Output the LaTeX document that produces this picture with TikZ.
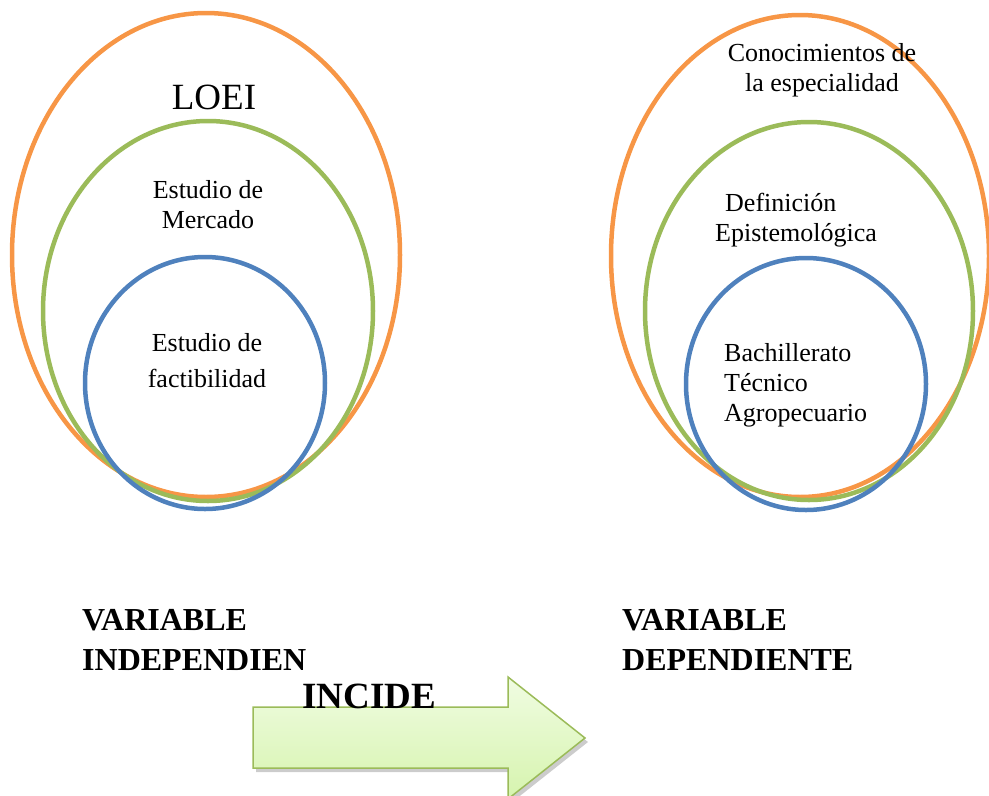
\documentclass[tikz,border=0pt]{standalone}
\usepackage{fontspec}
\setmainfont{Liberation Serif}
\usepackage{tikz}
\usetikzlibrary{positioning,calc}
\definecolor{tangerine}{HTML}{F79646}
\definecolor{olive}{HTML}{9BBB59}
\definecolor{steel}{HTML}{4F81BD}
\definecolor{mintlight}{HTML}{F0FCE2}
\definecolor{mintdark}{HTML}{D6F4AE}

\begin{document}
\begin{tikzpicture}[x=1pt, y=-1pt,
    ring/.style={line width=4.5pt},
    label/.style={inner sep=0pt, font=\fontsize{26}{30}\selectfont},
    varlabel/.style={inner sep=0pt, align=left, anchor=north west, font=\fontsize{32}{40}\selectfont\bfseries}]
      \useasboundingbox (0,0) rectangle (989,796);

      % left set: independent variable
      \draw[tangerine, ring] (206,255) ellipse [x radius=194, y radius=242];
      \draw[olive, ring] (208,311) ellipse [x radius=165, y radius=190];
      \draw[steel, ring] (205,383) ellipse [x radius=120, y radius=126];
      \node[label, anchor=north, font=\fontsize{37}{40}\selectfont] (loei) at (214,85) {LOEI};
      \node[label, anchor=north, align=center] (mercado) at (208,180) {Estudio de\\Mercado};
      \node[label, anchor=north, align=center, font=\fontsize{26}{36}\selectfont] (factib) at (207,333) {Estudio de\\factibilidad};

      % right set: dependent variable
      \draw[tangerine, ring] (800,256) ellipse [x radius=189, y radius=241];
      \draw[olive, ring] (809,311) ellipse [x radius=164, y radius=189];
      \draw[steel, ring] (806,384) ellipse [x radius=120, y radius=126];
      \node[label, anchor=north, align=center] (conoc) at (822,43) {Conocimientos de\\la especialidad};
      \node[label, anchor=north west, align=left] (defin) at (715,193) {\hspace*{10pt}Definición\\Epistemológica};
      \node[label, anchor=north west, align=left] (bachi) at (724,343) {Bachillerato\\Técnico\\Agropecuario};

      % variables
      \node[varlabel] (varindep) at (82,609) {VARIABLE\\INDEPENDIEN};
      \node[varlabel] (vardep) at (622,609) {VARIABLE\\DEPENDIENTE};

      % arrow
      \fill[black, opacity=0.2] (256,711) -- (511,711) -- (511,681) -- (588,742) -- (511,803) -- (511,772) -- (256,772) -- cycle;
      \shade[top color=mintlight, bottom color=mintdark, draw=olive, line width=1.5pt, line join=miter]
        (253,707) -- (508,707) -- (508,677) -- (585,738) -- (508,799) -- (508,768) -- (253,768) -- cycle;
      \node[inner sep=0pt, anchor=north west, font=\fontsize{37}{40}\selectfont\bfseries] (incide) at (302,684) {INCIDE};
    \end{tikzpicture}
\end{document}
